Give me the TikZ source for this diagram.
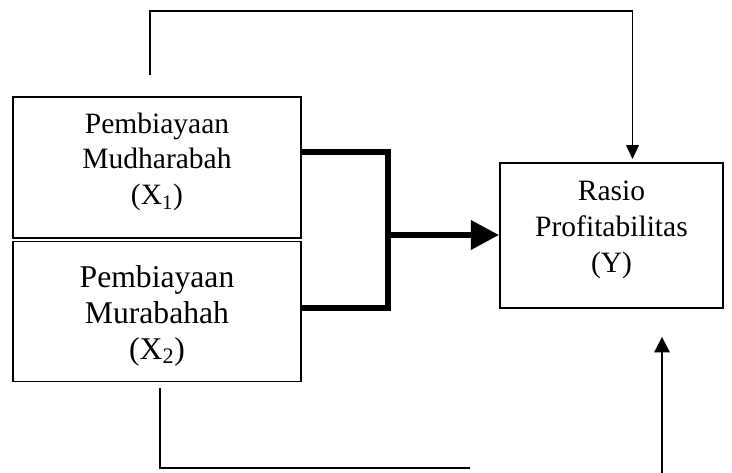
\documentclass[tikz,border=0pt]{standalone}
\usepackage{fontspec}
\setmainfont{Liberation Serif}
\usepackage{tikz}
\usetikzlibrary{positioning, arrows.meta, calc}
\tikzset{
  % variable box
  varbox/.style={draw, line width=1.3pt, inner sep=0pt},
  % box caption
  vartext/.style={align=center, font=\fontsize{#1}{25.5}\selectfont},
  vartext/.default=21,
  % thin connector
  link/.style={line width=1.3pt},
  % thick bracket line
  bold link/.style={line width=4.3pt},
}
\begin{document}
\begin{tikzpicture}[x=0.025cm, y=-0.025cm]
  \useasboundingbox (0,0) rectangle (732,473);
  % independent variables
  \node[varbox, minimum width=288*0.025cm, minimum height=141*0.025cm]
    (mudh) at (157,167.5) {};
  \node[vartext] (mudhtxt) at (mudh.center) [yshift=4pt]
    {Pembiayaan\\Mudharabah\\(X\textsubscript{1})};
  \node[varbox, minimum width=288*0.025cm, minimum height=140*0.025cm]
    (mura) at (157,311.5) {};
  \node[vartext=22.5] (muratxt) at (mura.center) [yshift=-3pt]
    {Pembiayaan\\Murabahah\\(X\textsubscript{2})};
  % dependent variable
  \node[varbox, minimum width=223*0.025cm, minimum height=145*0.025cm]
    (rasio) at (611.5,235.5) {};
  \node[vartext] (rasiotxt) at (rasio.center) [yshift=4pt]
    {Rasio\\Profitabilitas\\(Y)};
  % bracket joining X1 and X2
  \coordinate (join) at (388,235);
  \draw[bold link] (mudh.east |- 0,152) -| (join |- 0,152) -- (join |- 0,308) -- (mura.east |- 0,308);
  \draw[bold link, -{Triangle[length=20pt, width=20pt]}] (join) -- (rasio.west |- join);
  % partial effect of X1
  \coordinate (topl) at (150,11);
  \draw[link, -{Triangle[length=10pt, width=9pt]}]
    (150,75) -- (topl) -| ([xshift=21*0.025cm, yshift=3*0.025cm]rasio.north);
  % partial effect of X2
  \coordinate (botl) at (470,468);
  \draw[link] (160,388) |- (botl);
  \draw[link, -{Triangle[length=11pt, width=11pt]}]
    (662,473) -- ([yshift=-28*0.025cm]rasio.south -| 662,0);
\end{tikzpicture}
\end{document}
